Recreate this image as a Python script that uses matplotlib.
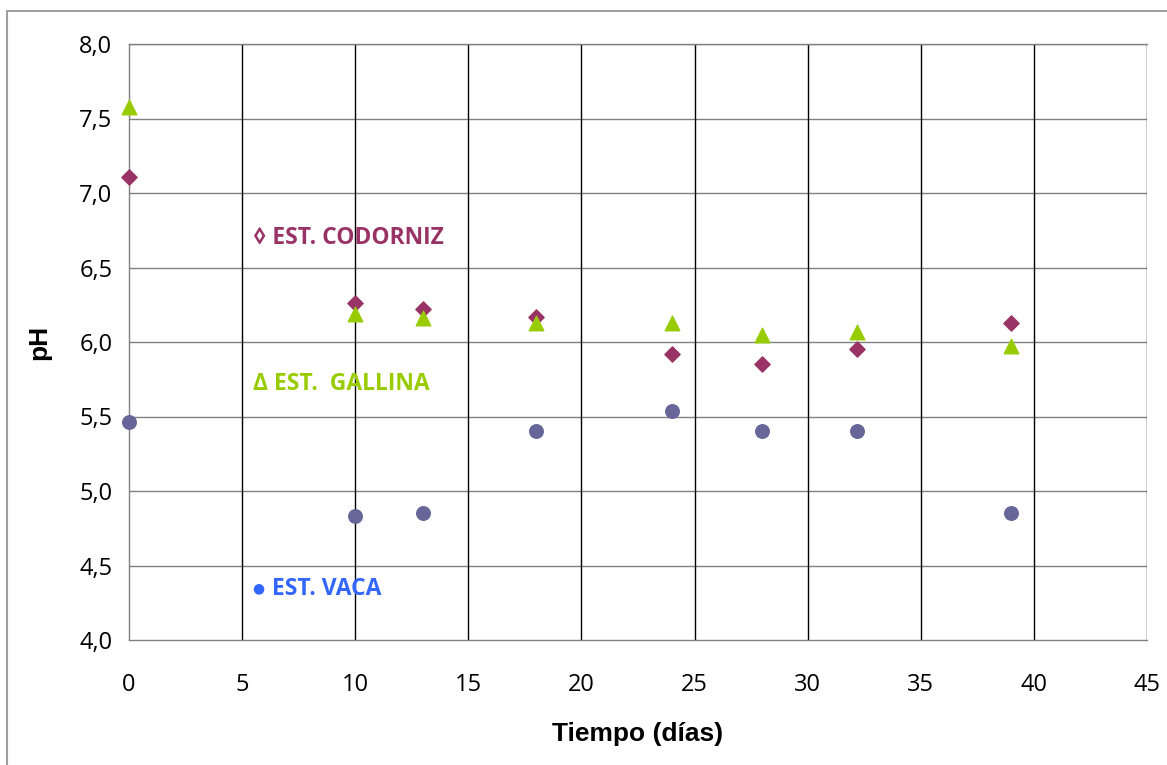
import matplotlib.pyplot as plt
from matplotlib.patches import Rectangle

# Tiempo (días) y pH de cada estiércol
dias = [0, 10, 13, 18, 24, 28, 32.2, 39]
ph_codorniz = [7.11, 6.26, 6.22, 6.17, 5.92, 5.85, 5.95, 6.13]
ph_gallina = [7.58, 6.19, 6.16, 6.13, 6.13, 6.05, 6.07, 5.97]
ph_vaca = [5.46, 4.83, 4.85, 5.40, 5.54, 5.40, 5.40, 4.85]

x_ticks = list(range(0, 50, 5))
y_ticks = [4.0, 4.5, 5.0, 5.5, 6.0, 6.5, 7.0, 7.5, 8.0]

fuente = ["Open Sans", "DejaVu Sans"]

fig = plt.figure(figsize=(11.67, 7.65), dpi=100)
ax = fig.add_axes([129 / 1167, 1 - 640 / 765, 1018 / 1167, 596 / 765])

# marco exterior del gráfico
fig.patches.append(Rectangle((7 / 1167, -0.1), 1.2, 1 - 11 / 765 + 0.1,
                             transform=fig.transFigure, fill=False,
                             edgecolor="#a0a0a0", linewidth=1.5))

ax.set_xlim(0, 45)
ax.set_ylim(4, 8)
ax.set_xticks(x_ticks)
ax.set_yticks(y_ticks)
ax.set_yticklabels([f"{v:.1f}".replace(".", ",") for v in y_ticks])
ax.tick_params(length=0, pad=24, labelsize=17)
ax.tick_params(axis="y", pad=12)
for lab in ax.get_xticklabels() + ax.get_yticklabels():
    lab.set_family(fuente)

for y in y_ticks[1:]:
    ax.axhline(y, color="#808080", linewidth=1, zorder=1)
for x in x_ticks[1:]:
    ax.axvline(x, color="black", linewidth=1, zorder=1)
for lado in ["left", "bottom", "top", "right"]:
    ax.spines[lado].set_color("#808080")
    ax.spines[lado].set_linewidth(1)
ax.spines["right"].set_visible(False)

ax.scatter(dias, ph_codorniz, marker="D", s=60, color="#993366", zorder=3, clip_on=False)
ax.scatter(dias, ph_gallina, marker="^", s=110, color="#99CC00", zorder=3, clip_on=False)
ax.scatter(dias, ph_vaca, marker="o", s=95, color="#666699", zorder=3, clip_on=False)

ax.text(5.5, 6.70, "◊ EST. CODORNIZ", color="#993366", fontsize=16.5, fontweight="bold",
        family=fuente, va="center", zorder=4)
ax.text(5.5, 5.72, "Δ EST.  GALLINA", color="#99CC00", fontsize=16.5, fontweight="bold",
        family=fuente, va="center", zorder=4)
ax.text(5.72, 4.345, "●", color="#3366FF", fontsize=10, family="DejaVu Sans",
        ha="center", va="center", zorder=4)
ax.text(6.3, 4.34, "EST. VACA", color="#3366FF", fontsize=16.5, fontweight="bold",
        family=fuente, va="center", zorder=4)

ax.set_xlabel("Tiempo (días)", fontsize=19, fontweight="bold",
              family="Liberation Sans", labelpad=18)
ax.set_ylabel("pH", fontsize=19, fontweight="bold", family="Liberation Sans", labelpad=20)

plt.savefig("out.png", dpi=100)
